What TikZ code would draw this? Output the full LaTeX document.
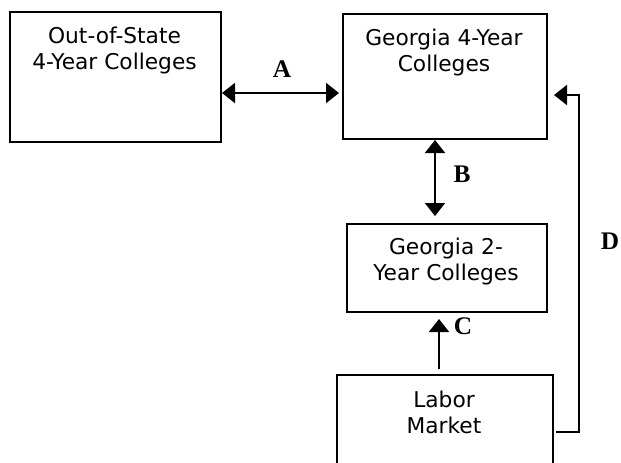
\documentclass[tikz,border=0pt]{standalone}
\usepackage{fontspec}
\newfontfamily\boxfont{DejaVu Sans}
\newfontfamily\labfont{Liberation Serif}
\usetikzlibrary{arrows.meta}
\begin{document}
\begin{tikzpicture}[x=0.75pt,y=-0.75pt,
  box/.style={draw, line width=1.5pt, inner sep=0pt, anchor=north west},
  boxtext/.style={font=\boxfont\fontsize{16.3}{19.5}\selectfont, align=center, anchor=base, inner sep=0pt},
  lab/.style={font=\labfont\bfseries\fontsize{19}{21}\selectfont, anchor=base, inner sep=0pt},
  conn/.style={line width=1.5pt, arrows={-}},
  tip/.tip={Triangle[length=9.75pt, width=15pt]}
]
\useasboundingbox (0,0) rectangle (621,462);
\clip (0,0) rectangle (621,462);
% boxes
\node[box, minimum width=158.25pt, minimum height=97.5pt] (b1) at (9,11) {};
\node[box, minimum width=153pt, minimum height=93.75pt] (b2) at (342,13) {};
\node[box, minimum width=150pt, minimum height=66pt] (b3) at (346,223) {};
\node[box, minimum width=162pt, minimum height=90pt] (b4) at (336,374) {};
% texts (base anchor = baseline of the last line)
\node[boxtext] (t1) at (114.5,69) {Out-of-State\\4-Year Colleges};
\node[boxtext] (t2) at (444,71) {Georgia 4-Year\\Colleges};
\node[boxtext] (t3) at (446,280) {Georgia 2-\\Year Colleges};
\node[boxtext] (t4) at (444,433) {Labor\\Market};
% labels
\node[lab] (la) at (282,77) {A};
\node[lab] (lb) at (462,182) {B};
\node[lab] (lc) at (463,334) {C};
\node[lab] (ld) at (610,249) {D};
% helper coordinates
\coordinate (ay) at (0,93);
\coordinate (bx) at (435,0);
\coordinate (cx) at (439,0);
\coordinate (dlow) at (579,432);
\coordinate (dhigh) at (579,95);
% connectors
\draw[conn, tip-tip] (b1.east |- ay) -- ([xshift=-2.25pt]b2.west |- ay);
\draw[conn, tip-tip] (b2.south -| bx) -- ([yshift=5.25pt]b3.north -| bx);
\draw[conn, -tip] ([yshift=3.75pt]b4.north -| cx) -- ([yshift=-4.5pt]b3.south -| cx);
\draw[conn, -tip] ([xshift=1.5pt]b4.east |- dlow) -- (dlow) -- (dhigh) -- ([xshift=4.5pt]b2.east |- dhigh);
\end{tikzpicture}
\end{document}
